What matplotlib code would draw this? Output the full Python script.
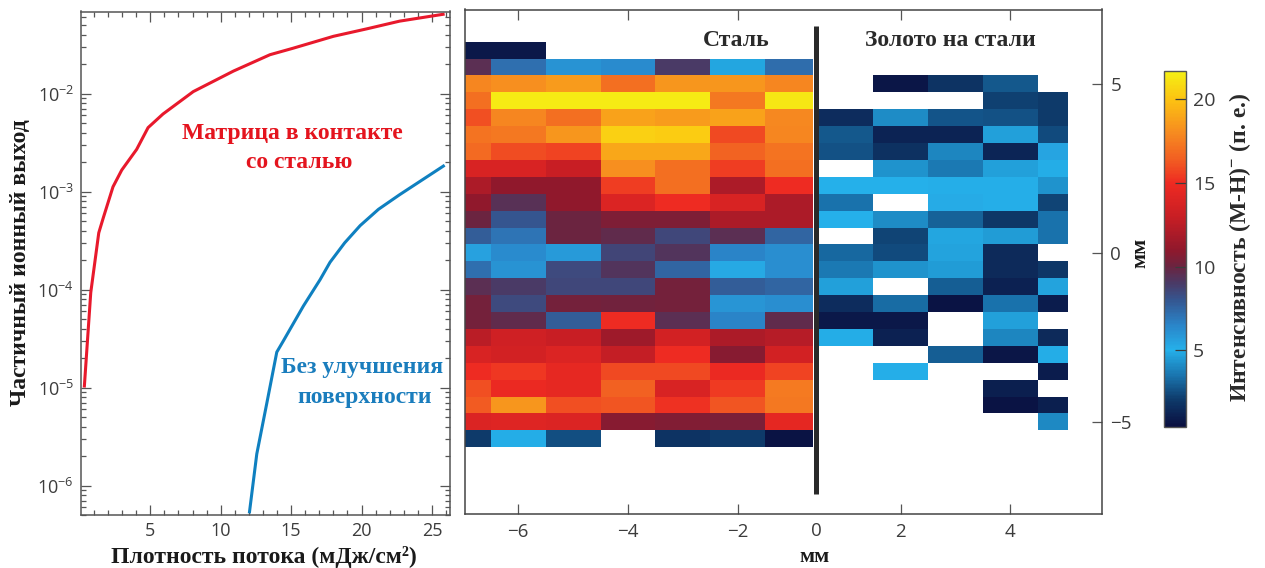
import numpy as np
import matplotlib
matplotlib.use("Agg")
import matplotlib.pyplot as plt
from matplotlib.colors import LinearSegmentedColormap, Normalize
from matplotlib.ticker import FixedLocator, LogLocator, NullFormatter, LogFormatterMathtext

W, H = 1265, 568
plt.rcParams['font.family'] = ['Open Sans', 'DejaVu Sans']
plt.rcParams['mathtext.default'] = 'regular'
plt.rcParams['axes.unicode_minus'] = True

# ---------- data ----------
red_x = [0.31, 0.77, 1.34, 1.66, 2.35, 2.97, 4.03, 4.84, 5.9, 8.05, 10.9, 13.5, 15.1, 18.0, 20.4, 22.7, 25.9]
red_y = [1e-5, 9.3e-5, 3.8e-4, 5.4e-4, 1.12e-3, 1.66e-3, 2.7e-3, 4.5e-3, 6.2e-3, 1.05e-2, 1.7e-2, 2.5e-2,
         2.9e-2, 3.85e-2, 4.6e-2, 5.5e-2, 6.5e-2]
blue_x = [12.03, 12.56, 13.27, 13.98, 14.45, 15.87, 17.05, 17.76, 18.8, 19.9, 21.2, 22.7, 25.9]
blue_y = [5.2e-7, 2.1e-6, 6.9e-6, 2.3e-5, 3.0e-5, 6.8e-5, 1.26e-4, 1.9e-4, 3.0e-4, 4.5e-4, 6.6e-4, 9.3e-4, 1.86e-3]

n = np.nan
row_edges = [6.25 - 0.5 * i for i in range(25)]
steel_edges = [-6.97, -6.5, -5.5, -4.5, -3.5, -2.5, -1.5, -0.63]
gold_edges = [0.5, 1.5, 2.5, 3.5, 4.5, 5.05]
gold_shift = -1.028      # the printed axis is broken at 0
steel = [
    [0.8, 0.8, n, n, n, n, n],
    [9.5, 7.2, 6.0, 6.3, 9.0, 4.8, 7.3],
    [17.8, 18.2, 18.6, 17.0, 18.4, 18.4, 17.8],
    [17.0, 21.5, 21.5, 21.5, 21.5, 17.3, 21.3],
    [16.0, 17.8, 17.0, 18.8, 18.6, 18.8, 17.9],
    [17.2, 17.3, 18.4, 20.5, 20.3, 15.8, 17.8],
    [16.8, 15.9, 15.7, 19.0, 19.0, 16.6, 17.2],
    [13.8, 13.8, 13.0, 18.2, 17.0, 15.5, 17.0],
    [12.0, 11.0, 11.0, 15.5, 17.0, 12.0, 15.0],
    [11.0, 9.4, 11.0, 14.0, 15.0, 13.8, 12.0],
    [10.0, 8.0, 10.0, 10.5, 10.5, 12.0, 12.0],
    [7.8, 7.0, 10.0, 9.7, 8.5, 9.5, 7.5],
    [5.5, 6.3, 5.8, 8.6, 9.3, 6.5, 6.2],
    [7.2, 6.0, 8.4, 9.3, 7.5, 5.3, 6.2],
    [9.5, 9.0, 8.5, 8.5, 10.3, 7.8, 7.5],
    [10.3, 8.4, 10.3, 10.2, 10.3, 5.9, 6.2],
    [10.3, 9.7, 7.8, 15.0, 9.5, 6.5, 9.7],
    [12.5, 13.3, 13.0, 11.5, 13.5, 12.0, 12.3],
    [13.8, 13.5, 14.0, 12.8, 15.0, 10.8, 13.5],
    [15.0, 15.3, 14.6, 15.8, 15.8, 14.8, 15.7],
    [16.0, 14.8, 14.6, 16.5, 13.8, 15.4, 17.4],
    [16.3, 18.4, 16.0, 16.2, 15.2, 16.2, 17.3],
    [14.0, 14.2, 14.0, 10.8, 10.6, 10.4, 14.5],
    [2.0, 4.9, 2.5, n, 1.8, 2.0, 0.6],
]
gold = [
    [n, n, n, n, n],
    [n, n, n, n, n],
    [n, 0.7, 1.8, 2.8, n],
    [n, n, n, 2.2, 2.0],
    [1.5, 4.1, 2.7, 2.6, 2.0],
    [2.8, 1.2, 1.2, 4.6, 2.4],
    [2.6, 1.7, 3.9, 1.3, 5.4],
    [n, 4.3, 3.6, 4.6, 4.9],
    [5.0, 5.0, 5.1, 5.1, 4.3],
    [3.4, n, 5.2, 5.1, 2.3],
    [5.0, 4.1, 3.0, 1.9, 3.4],
    [n, 2.3, 4.8, 4.5, 3.4],
    [3.2, 2.4, 4.7, 1.4, n],
    [3.6, 4.3, 4.5, 1.4, 1.9],
    [4.6, n, 2.9, 1.1, 4.7],
    [1.5, 3.3, 0.6, 3.4, 0.9],
    [0.8, 0.8, n, 4.6, n],
    [4.9, 1.1, n, 3.9, 1.4],
    [n, n, 2.9, 0.7, 4.9],
    [n, 5.1, n, n, 0.9],
    [n, n, n, 1.0, n],
    [n, n, n, 0.6, 1.0],
    [n, n, n, n, 4.0],
    [n, n, n, n, n],
]
cb_ticks = [5, 10, 15, 20]
y_ticks = [-5, 0, 5]
xtick_steel = [-6, -4, -2]
xtick_gold = [2, 4]
vmin, vmax = 0.4, 21.7
cmap_stops = [(0.4, '#0a0f40'), (2.0, '#0e3a6a'), (3.5, '#1a76b0'), (5.0, '#25b0ea'), (6.5, '#2a84c8'),
              (8.0, '#35558f'), (9.0, '#4a3a66'), (10.0, '#6b2440'), (11.0, '#90182c'), (13.0, '#c81e24'),
              (15.0, '#ee2a22'), (16.5, '#f26022'), (18.0, '#f68a20'), (20.0, '#fcc212'), (21.7, '#f5f014')]

# ---------- helpers ----------
def axpx(l, t, r, b):
    return fig.add_axes([l / W, 1 - b / H, (r - l) / W, (b - t) / H])

def txt(x, y, s, **kw):
    kw.setdefault('family', ['Liberation Serif', 'DejaVu Serif'])
    kw.setdefault('weight', 'bold')
    kw.setdefault('ha', 'center')
    kw.setdefault('va', 'center')
    fig.text(x / W, 1 - y / H, s, **kw)

GRAY = '#555555'
TICK = '#3c3c3c'
fig = plt.figure(figsize=(W / 100, H / 100), dpi=100, facecolor='white')

# ---------- left panel ----------
ax = axpx(81, 11.5, 450, 515)
ax.plot(red_x, red_y, color='#e8192c', lw=2.2, solid_capstyle='butt')
ax.plot(blue_x, blue_y, color='#0f80c0', lw=2.2, solid_capstyle='butt')
ax.set_yscale('log')
ax.set_xlim(0.078, 26.28)
ax.set_ylim(5e-7, 0.069)
ax.xaxis.set_major_locator(FixedLocator([5, 10, 15, 20, 25]))
ax.xaxis.set_minor_locator(FixedLocator([i for i in range(1, 27) if i % 5]))
ax.yaxis.set_major_locator(LogLocator(base=10, numticks=12))
ax.yaxis.set_minor_locator(LogLocator(base=10, subs=np.arange(2, 10) * 0.1, numticks=12))
ax.yaxis.set_major_formatter(LogFormatterMathtext())
ax.yaxis.set_minor_formatter(NullFormatter())
ax.tick_params(which='major', direction='in', length=7.5, width=0.9, color=GRAY, top=True, right=True,
               labelsize=13, labelcolor=TICK, pad=5)
ax.tick_params(which='minor', direction='in', length=3.5, width=0.9, color=GRAY, top=True, right=True)
for s in ax.spines.values():
    s.set_color(GRAY)
    s.set_linewidth(1.1)

# ---------- heat map ----------
cmap = LinearSegmentedColormap.from_list('rb', [((v - vmin) / (vmax - vmin), c) for v, c in cmap_stops])
norm = Normalize(vmin, vmax)
ax2 = axpx(465, 9.5, 1102, 513.5)
mesh = ax2.pcolormesh(steel_edges, row_edges, np.ma.masked_invalid(steel), cmap=cmap, norm=norm, linewidth=0)
ax2.pcolormesh(np.array(gold_edges) + gold_shift, row_edges, np.ma.masked_invalid(gold), cmap=cmap, norm=norm,
               linewidth=0)
ax2.set_xlim(-6.97, 4.64)
ax2.set_ylim(-7.71, 7.2)
pos = xtick_steel + [v + gold_shift for v in xtick_gold]
labs = [f'\u2212{abs(v)}' for v in xtick_steel] + [str(v) for v in xtick_gold]
ax2.set_xticks(pos, labs)
ax2.set_yticks(y_ticks, ['\u22125', '0', '5'])
ax2.tick_params(axis='x', direction='in', length=7.5, width=0.9, color=GRAY, top=True,
                labelsize=13.5, labelcolor=TICK, pad=6.5)
ax2.tick_params(axis='y', direction='in', length=7.5, width=0.9, color=GRAY, left=False, right=True,
                labelleft=False, labelright=True, labelsize=13.5, labelcolor=TICK, pad=6)
for s in ax2.spines.values():
    s.set_color('#444444')
    s.set_linewidth(1.1)
ax2.plot([-0.573, -0.573], [6.7, -7.14], color='#2a2a2a', lw=3.6, solid_capstyle='butt')
ax2.text(-0.573, -8.22, '0', ha='center', va='center', fontsize=13.5, color=TICK, clip_on=False)

# ---------- colour bar ----------
cax = axpx(1164, 71, 1186, 427)
cb = fig.colorbar(mesh, cax=cax)
cb.set_ticks(cb_ticks)
cb.ax.tick_params(direction='in', length=8, width=0.9, color=TICK, labelsize=14, labelcolor=TICK, pad=5)
cb.outline.set_edgecolor('#555555')
cb.outline.set_linewidth(1.0)

# ---------- text ----------
txt(21, 263, 'Частичный ионный выход', rotation=90, fontsize=17, color='#1a1a1a')
txt(264, 557, 'Плотность потока (мДж/см²)', fontsize=17, color='#1a1a1a')
txt(292, 133, 'Матрица в контакте', fontsize=17, color='#e4141e')
txt(299, 163, 'со сталью', fontsize=17, color='#e4141e')
txt(362, 367, 'Без улучшения', fontsize=17, color='#1a7dbd')
txt(365, 397, 'поверхности', fontsize=17, color='#1a7dbd')
txt(736, 40, 'Сталь', fontsize=17, color='#2a2a2a')
txt(950, 40, 'Золото на стали', fontsize=17, color='#2a2a2a')
txt(815, 557, 'мм', fontsize=16, color='#1a1a1a')
txt(1140, 253, 'мм', rotation=90, fontsize=16, color='#1a1a1a')
txt(1240, 247, 'Интенсивность (M-H)$^{-}$ (п. е.)', rotation=90, fontsize=17, color='#2a2a2a')

fig.savefig('out.png', dpi=100)
